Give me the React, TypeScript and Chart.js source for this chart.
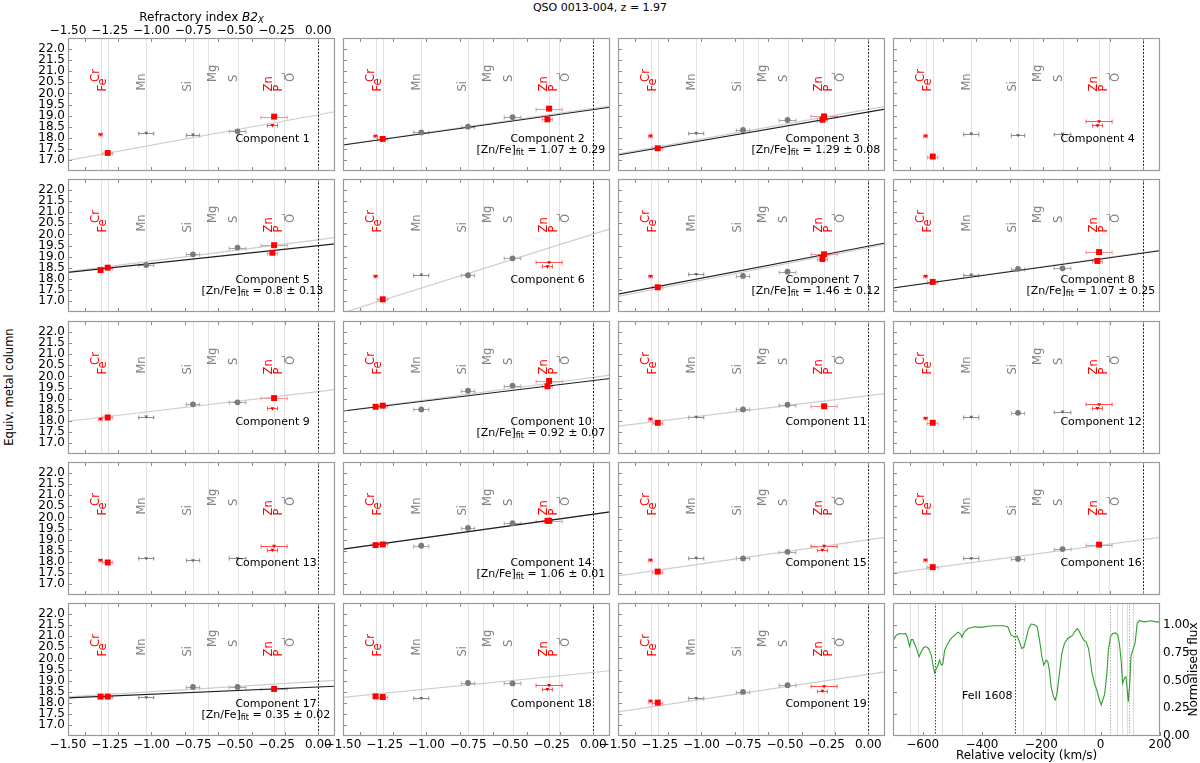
import React, { useEffect, useRef } from 'react';
import { Chart, registerables } from 'chart.js';

Chart.register(...registerables);

const FONT = "'DejaVu Sans', 'Liberation Sans', Arial, sans-serif";
Chart.defaults.font.family = FONT;
Chart.defaults.color = '#000';

// ---------------- text ----------------
const figureTitle = 'QSO 0013-004, z = 1.97';
const yAxisTitle = 'Equiv. metal column';
const topAxisTitle = 'Refractory index ';
const spectrumXTitle = 'Relative velocity (km/s)';
const spectrumYTitle = 'Normalised flux';
const transitionLabel = 'FeII 1608';

// ---------------- axes ----------------
const b2xRange = [-1.5, 0.1];
const columnRange = [16.52, 22.49];
const b2xLabelStep = 0.25;
const columnLabelStep = 0.5;
const b2xTickMarks = [-1.4, -1.2, -1.0, -0.8, -0.6, -0.4, -0.2, 0.0];
const columnTickMarks = [17, 17.5, 18, 18.5, 19, 19.5, 20, 20.5, 21, 21.5, 22];
const velocityRange = [-700, 200];
const velocityLabelStep = 200;
const velocityTickMarks = [-600, -400, -200, 0, 200];
const fluxRange = [0, 1.2];
const fluxLabelStep = 0.25;
const fluxTickMarks = [0.2, 0.4, 0.6, 0.8, 1.0];

// ---------------- elements ----------------
const elementNames = ['Cr', 'Fe', 'Mn', 'Si', 'Mg', 'S', 'Zn', 'P', 'O'];
const elementB2x = [-1.305, -1.262, -1.031, -0.751, -0.66, -0.484, -0.265, -0.275, -0.204];
const elementXerr = [0.01, 0.03, 0.045, 0.04, 0.04, 0.05, 0.078, 0.03, 0];
const elementIsRed = [true, true, false, false, false, false, true, true, false];
const elementLabelX = [-1.335, -1.289, -1.059, -0.781, -0.631, -0.504, -0.298, -0.238, -0.166];
const elementLabelY = [20.52, 20.09, 20.13, 20.09, 20.52, 20.52, 20.09, 20.09, 20.52];
const gridElements = [0, 1, 2, 3, 4, 5, 6, 8];
const oMarkerRange = [20.62, 20.92];

// ---------------- component columns (19 components) ----------------
// kind: M = measured, L = limit, - = none
const crColumn = [18.16, 18.10, 18.11, 18.11, 18.40, 18.13, 18.13, 18.13, 18.10, 18.64, 18.10, 18.13, 18.08, 18.76, 18.10, 18.10, 18.29, 18.30, 18.10];
const crKind = 'LLLLMLLLLMLLLMLLMML';
const feColumn = [17.33, 17.96, 17.54, 17.17, 18.51, 17.09, 17.63, 17.87, 18.16, 18.69, 17.92, 17.92, 17.98, 18.79, 17.57, 17.77, 18.29, 18.27, 18.02];
const feKind = 'MMMMMMMMMMMMMMMMMMM';
const mnColumn = [18.23, 18.25, 18.22, 18.20, 18.63, 18.20, 18.22, 18.20, 18.20, 18.52, 18.19, 18.19, 18.17, 18.73, 18.19, 18.17, 18.26, 18.22, 18.22];
const mnKind = 'LMLLMLLLLMLLLMLLLLL';
const siColumn = [18.15, 18.51, 18.36, 18.13, 19.11, 18.17, 18.14, 18.46, 18.75, 19.36, 18.52, 18.37, 18.08, 19.53, 18.16, 18.14, 18.72, 18.90, 18.50];
const siKind = 'LMMLMMMMMMMMLMMMMMM';
const sColumn = [18.30, 18.94, 18.81, 18.19, 19.41, 18.93, 18.33, 18.48, 18.84, 19.59, 18.73, 18.42, 18.17, 19.74, 18.46, 18.58, 18.72, 18.88, 18.80];
const sKind = 'MMMLMMMMMMMLLMMMMMM';
const znColumn = [18.96, 19.32, 18.97, 18.75, 19.52, 18.75, 19.11, 19.21, 19.03, 19.80, 18.66, 18.75, 18.72, 19.85, 18.72, 18.78, 18.63, 18.80, 18.75];
const znKind = 'MMMLMLMMMMMLLMLMMLL';
const pColumn = [18.58, 18.84, 18.82, 18.57, 19.18, 18.57, 18.90, 18.81, 18.57, 19.56, null, 18.58, 18.54, 19.85, 18.55, null, null, 18.62, 18.55];
const pKind = 'LMMLMLMMLM-LLML--LL';

// fit lines: column value at b2xRange[0] and b2xRange[1]
const grayFitStart = [17.0, 17.69, 17.29, null, 18.33, 16.49, 17.22, 17.60, 17.99, 18.45, 17.77, null, null, 18.58, 17.38, 17.50, 18.28, 18.25, 17.6];
const grayFitEnd = [19.18, 19.45, 19.42, null, 19.86, 20.25, 19.55, 19.30, 19.41, 20.06, 19.23, null, null, 20.25, 19.11, 19.11, 19.02, 19.45, 19.4];
const blackFitStart = [null, 17.69, 17.24, null, 18.30, null, 17.32, 17.60, null, 18.45, null, null, null, 18.58, null, null, 18.23, null, null];
const blackFitEnd = [null, 19.38, 19.30, null, 19.58, null, 19.62, 19.27, null, 19.91, null, null, null, 20.25, null, null, 18.75, null, null];
const znFeFit = ['', '1.07 ± 0.29', '1.29 ± 0.08', '', '0.8 ± 0.13', '', '1.46 ± 0.12', '1.07 ± 0.25', '', '0.92 ± 0.07', '', '', '', '1.06 ± 0.01', '', '', '0.35 ± 0.02', '', ''];
const componentTextAnchor = [-0.497, 17.97];
const fitTextAnchor = [-0.70, 17.47];

// ---------------- spectrum ----------------
const spectrumVelocity = [
  -700, -689, -678, -666, -658, -652, -644, -638, -633, -621,
  -612, -605, -596, -588, -580, -571, -564, -560, -554, -548,
  -543, -537, -532, -526, -515, -504, -492, -481, -472, -468,
  -459, -447, -425, -403, -380, -358, -330, -313, -302, -290,
  -281, -274, -266, -259, -251, -243, -234, -223, -214, -206,
  -198, -192, -184, -178, -173, -167, -159, -153, -147, -139,
  -131, -122, -111, -102, -94, -88, -79, -74, -66, -57,
  -49, -41, -34, -30, -21, -13, -4, 2, 7, 13,
  21, 26, 33, 41, 50, 58, 63, 69, 74, 80,
  85, 89, 93, 98, 102, 108, 116, 123, 130, 147,
  170, 187, 200];
const spectrumFlux = [
  0.86, 0.91, 0.925, 0.92, 0.925, 0.895, 0.81, 0.87, 0.87, 0.79,
  0.715, 0.76, 0.80, 0.805, 0.79, 0.73, 0.625, 0.57, 0.61, 0.64,
  0.685, 0.64, 0.65, 0.775, 0.835, 0.88, 0.91, 0.937, 0.92, 0.89,
  0.94, 0.97, 0.985, 0.98, 0.99, 0.995, 0.995, 0.985, 0.91, 0.895,
  0.90, 0.85, 0.79, 0.80, 0.88, 0.97, 1.01, 1.003, 0.985, 0.865,
  0.715, 0.64, 0.685, 0.67, 0.595, 0.445, 0.355, 0.325, 0.385, 0.565,
  0.745, 0.835, 0.88, 0.895, 0.91, 0.94, 0.97, 0.955, 0.91, 0.865,
  0.85, 0.79, 0.67, 0.58, 0.475, 0.415, 0.325, 0.28, 0.325, 0.37,
  0.565, 0.775, 0.895, 0.925, 0.93, 0.91, 0.835, 0.685, 0.475, 0.52,
  0.535, 0.43, 0.31, 0.475, 0.715, 0.775, 0.835, 1.015, 1.04, 1.03,
  1.04, 1.03, 1.03];
const componentVelocities = [-644, -616, -535, -468, -262, -189, -150, -109, -55, -19, 54, 71, 88, 108];
const markedVelocities = [33, 95];
const dividerVelocities = [-560, -290];
const transitionLabelPos = [-297, 0.36];

// ---------------- layout ----------------
const COL_LEFT = [68, 343, 618, 893];
const ROW_TOP = [38, 179, 321, 462, 603];
const PW = 267, PH = 133;
const ML = 70, MR = 40, MT = 38, MB = 27;
const CW = PW + ML + MR, CH = PH + MT + MB;
const Y_AXIS_W = 60, X_AXIS_H = 24, TOP_AXIS_H = 24, RIGHT_AXIS_W = 32;

const elementSeries: [number, (number | null)[], string][] = [
  [0, crColumn, crKind], [1, feColumn, feKind], [2, mnColumn, mnKind], [3, siColumn, siKind],
  [5, sColumn, sKind], [6, znColumn, znKind], [7, pColumn, pKind],
];

function signed(v: number, d: number) {
  const s = Math.abs(v).toFixed(d);
  return (v < -1e-9 ? '\u2212' : '') + s;
}
function hLine(ctx: any, x0: number, x1: number, y: number) {
  ctx.beginPath(); ctx.moveTo(x0, y); ctx.lineTo(x1, y); ctx.stroke();
}
function vLine(ctx: any, x: number, y0: number, y1: number) {
  ctx.beginPath(); ctx.moveTo(x, y0); ctx.lineTo(x, y1); ctx.stroke();
}
const half = (v: number) => Math.round(v) + 0.5;

function drawFrame(ctx: any, a: any) {
  ctx.strokeStyle = '#9a9a9a';
  ctx.lineWidth = 1.2;
  ctx.strokeRect(half(a.left), half(a.top), Math.round(a.right) - Math.round(a.left) - 1, Math.round(a.bottom) - Math.round(a.top) - 1);
}

function componentDecor(i: number) {
  return {
    id: 'componentDecor',
    beforeDatasetsDraw(chart: any) {
      const { ctx, chartArea: a } = chart;
      const xs = chart.scales.x, ys = chart.scales.y;
      ctx.save();
      ctx.beginPath(); ctx.rect(a.left, a.top, a.right - a.left, a.bottom - a.top); ctx.clip();
      ctx.lineWidth = 1;
      ctx.strokeStyle = '#e2e2e2';
      gridElements.forEach((e) => vLine(ctx, half(xs.getPixelForValue(elementB2x[e])), a.top, a.bottom));
      chart.data.datasets.forEach((ds: any) => {
        if (!ds.errColor) return;
        ctx.strokeStyle = ds.errColor;
        ds.data.forEach((p: any) => {
          if (!p.xerr) return;
          const x0 = xs.getPixelForValue(p.x - p.xerr), x1 = xs.getPixelForValue(p.x + p.xerr);
          const py = half(ys.getPixelForValue(p.y));
          hLine(ctx, x0, x1, py);
          vLine(ctx, x0, py - 2, py + 2);
          vLine(ctx, x1, py - 2, py + 2);
        });
      });
      const ox = half(xs.getPixelForValue(elementB2x[8]));
      ctx.strokeStyle = '#9a9a9a';
      const oTop = ys.getPixelForValue(oMarkerRange[1]);
      vLine(ctx, ox, ys.getPixelForValue(oMarkerRange[0]), oTop);
      hLine(ctx, ox - 3, ox, half(oTop));
      ctx.restore();
    },
    afterDatasetsDraw(chart: any) {
      const { ctx, chartArea: a } = chart;
      const xs = chart.scales.x, ys = chart.scales.y;
      ctx.save();
      // zero line
      ctx.strokeStyle = '#222';
      ctx.lineWidth = 1;
      ctx.setLineDash([2, 1.5]);
      vLine(ctx, half(xs.getPixelForValue(0)), a.top, a.bottom);
      ctx.setLineDash([]);
      // element labels
      ctx.font = `11.5px ${FONT}`;
      elementNames.forEach((name, e) => {
        ctx.save();
        ctx.translate(xs.getPixelForValue(elementLabelX[e]), ys.getPixelForValue(elementLabelY[e]));
        ctx.rotate(-Math.PI / 2);
        ctx.fillStyle = elementIsRed[e] ? '#ff0000' : '#808080';
        ctx.textAlign = 'left';
        ctx.textBaseline = 'middle';
        ctx.fillText(name, 0, 0);
        ctx.restore();
      });
      // annotation
      ctx.fillStyle = '#000';
      ctx.textBaseline = 'middle';
      ctx.textAlign = 'left';
      ctx.font = `11px ${FONT}`;
      ctx.fillText(`Component ${i + 1}`, xs.getPixelForValue(componentTextAnchor[0]), ys.getPixelForValue(componentTextAnchor[1]));
      if (znFeFit[i]) {
        let px = xs.getPixelForValue(fitTextAnchor[0]);
        const py = ys.getPixelForValue(fitTextAnchor[1]);
        ctx.fillText('[Zn/Fe]', px, py);
        px += ctx.measureText('[Zn/Fe]').width;
        ctx.font = `8px ${FONT}`;
        ctx.fillText('fit', px, py + 3);
        px += ctx.measureText('fit').width;
        ctx.font = `11px ${FONT}`;
        ctx.fillText(' = ' + znFeFit[i], px, py);
      }
      // inner ticks
      ctx.strokeStyle = '#8a8a8a';
      ctx.lineWidth = 1;
      b2xTickMarks.forEach((v) => {
        const px = half(xs.getPixelForValue(v));
        vLine(ctx, px, a.top, a.top + 4);
        vLine(ctx, px, a.bottom - 4, a.bottom);
      });
      columnTickMarks.forEach((v) => {
        const py = half(ys.getPixelForValue(v));
        hLine(ctx, a.left, a.left + 4, py);
      });
      drawFrame(ctx, a);
      // top axis title
      if (i === 0) {
        const parts: [string, string, number][] = [
          [topAxisTitle, `12px ${FONT}`, 0],
          ['B2', `italic 12px ${FONT}`, 0],
          ['X', `italic 8.5px ${FONT}`, 3],
        ];
        let total = 0;
        parts.forEach(([t, f]) => { ctx.font = f; total += ctx.measureText(t).width; });
        let px = (a.left + a.right) / 2 - total / 2;
        const py = a.top - 20;
        ctx.textAlign = 'left';
        ctx.textBaseline = 'middle';
        parts.forEach(([t, f, dy]) => {
          ctx.font = f;
          ctx.fillText(t, px, py + dy);
          px += ctx.measureText(t).width;
        });
      }
      ctx.restore();
    },
  };
}

function componentDatasets(i: number) {
  const ds: any[] = [];
  const grayM: any[] = [], grayL: any[] = [], redM: any[] = [], redL: any[] = [];
  elementSeries.forEach(([e, col, kind]) => {
    const k = kind[i];
    const v = col[i];
    if (k === '-' || v == null) return;
    const p = { x: elementB2x[e], y: v, xerr: elementXerr[e] };
    if (elementIsRed[e]) (k === 'M' ? redM : redL).push(p);
    else (k === 'M' ? grayM : grayL).push(p);
  });
  ds.push({ data: redM, pointStyle: 'rect', pointRadius: 4.2, backgroundColor: '#ff0000', borderWidth: 0, errColor: 'rgba(235,120,120,0.8)', order: 0 });
  ds.push({ data: redL, pointStyle: 'triangle', rotation: 180, pointRadius: 2.3, backgroundColor: '#ff0000', borderWidth: 0, errColor: 'rgba(255,50,50,0.85)', order: 1 });
  ds.push({ data: grayM, pointStyle: 'circle', pointRadius: 2.9, backgroundColor: '#7a7a7a', borderWidth: 0, errColor: 'rgba(150,150,150,0.85)', order: 2 });
  ds.push({ data: grayL, pointStyle: 'triangle', rotation: 180, pointRadius: 2.2, backgroundColor: '#6a6a6a', borderWidth: 0, errColor: 'rgba(120,120,120,0.85)', order: 3 });
  if (blackFitStart[i] != null) {
    ds.push({ data: [{ x: b2xRange[0], y: blackFitStart[i] }, { x: b2xRange[1], y: blackFitEnd[i] }], showLine: true, borderColor: '#1e1e1e', borderWidth: 1.1, pointRadius: 0, order: 8 });
  }
  if (grayFitStart[i] != null) {
    ds.push({ data: [{ x: b2xRange[0], y: grayFitStart[i] }, { x: b2xRange[1], y: grayFitEnd[i] }], showLine: true, borderColor: 'rgba(185,185,185,0.7)', borderWidth: 1.2, pointRadius: 0, order: 9 });
  }
  return ds;
}

function makeComponentChart(canvas: HTMLCanvasElement, i: number) {
  const row = Math.floor(i / 4), col = i % 4;
  const showLeft = col === 0, showBottom = row === 4, showTop = i === 0;
  const tickFont = { size: 12, family: FONT };
  const scales: any = {
    x: {
      type: 'linear', position: 'bottom', min: b2xRange[0], max: b2xRange[1], display: showBottom,
      grid: { display: false, drawTicks: false }, border: { display: false },
      ticks: { stepSize: b2xLabelStep, includeBounds: false, padding: 2, font: tickFont, color: '#000', maxRotation: 0, autoSkip: false, callback: (v: number) => signed(v, 2) },
      afterFit: showBottom ? (s: any) => { s.height = X_AXIS_H; } : undefined,
    },
    y: {
      type: 'linear', position: 'left', min: columnRange[0], max: columnRange[1], display: showLeft,
      grid: { display: false, drawTicks: false }, border: { display: false },
      ticks: { stepSize: columnLabelStep, includeBounds: false, padding: 3, font: tickFont, color: '#000', autoSkip: false, callback: (v: number) => v.toFixed(1) },
      afterFit: showLeft ? (s: any) => { s.width = Y_AXIS_W; } : undefined,
    },
  };
  if (showTop) {
    scales.xTop = {
      type: 'linear', position: 'top', min: b2xRange[0], max: b2xRange[1], display: true,
      grid: { display: false, drawTicks: false }, border: { display: false },
      ticks: { stepSize: b2xLabelStep, includeBounds: false, padding: 0, font: tickFont, color: '#000', maxRotation: 0, autoSkip: false, callback: (v: number) => signed(v, 2) },
      afterFit: (s: any) => { s.height = TOP_AXIS_H; },
    };
  }
  return new Chart(canvas, {
    type: 'scatter',
    data: { datasets: componentDatasets(i) },
    options: {
      animation: false, responsive: false, devicePixelRatio: 1, events: [],
      layout: { padding: { left: ML - (showLeft ? Y_AXIS_W : 0), right: MR, top: MT - (showTop ? TOP_AXIS_H : 0), bottom: MB - (showBottom ? X_AXIS_H : 0) } },
      plugins: { legend: { display: false }, tooltip: { enabled: false } },
      scales,
    } as any,
    plugins: [componentDecor(i)],
  } as any);
}

const spectrumDecor = {
  id: 'spectrumDecor',
  beforeDatasetsDraw(chart: any) {
    const { ctx, chartArea: a } = chart;
    const xs = chart.scales.x;
    ctx.save();
    ctx.beginPath(); ctx.rect(a.left, a.top, a.right - a.left, a.bottom - a.top); ctx.clip();
    ctx.lineWidth = 1;
    ctx.strokeStyle = '#dedede';
    componentVelocities.forEach((v) => vLine(ctx, half(xs.getPixelForValue(v)), a.top, a.bottom));
    ctx.setLineDash([1.5, 1.5]);
    ctx.strokeStyle = '#aaaaaa';
    markedVelocities.forEach((v) => vLine(ctx, half(xs.getPixelForValue(v)), a.top, a.bottom));
    ctx.strokeStyle = '#444';
    dividerVelocities.forEach((v) => vLine(ctx, half(xs.getPixelForValue(v)), a.top, a.bottom));
    ctx.restore();
  },
  afterDatasetsDraw(chart: any) {
    const { ctx, chartArea: a } = chart;
    const xs = chart.scales.x, ys = chart.scales.yR;
    ctx.save();
    ctx.fillStyle = '#000';
    ctx.font = `11px ${FONT}`;
    ctx.textAlign = 'right';
    ctx.textBaseline = 'middle';
    ctx.fillText(transitionLabel, xs.getPixelForValue(transitionLabelPos[0]), ys.getPixelForValue(transitionLabelPos[1]));
    ctx.strokeStyle = '#8a8a8a';
    ctx.lineWidth = 1;
    fluxTickMarks.forEach((v) => hLine(ctx, a.left, a.left + 4, half(ys.getPixelForValue(v))));
    velocityTickMarks.forEach((v) => vLine(ctx, half(xs.getPixelForValue(v)), a.bottom - 4, a.bottom));
    drawFrame(ctx, a);
    ctx.font = `12px ${FONT}`;
    ctx.textAlign = 'center';
    ctx.textBaseline = 'middle';
    ctx.fillText(spectrumXTitle, (a.left + a.right) / 2, a.bottom + 20);
    ctx.save();
    ctx.translate(a.right + 34, (a.top + a.bottom) / 2);
    ctx.rotate(-Math.PI / 2);
    ctx.fillText(spectrumYTitle, 0, 0);
    ctx.restore();
    ctx.restore();
  },
};

function makeSpectrumChart(canvas: HTMLCanvasElement) {
  const tickFont = { size: 12, family: FONT };
  return new Chart(canvas, {
    type: 'line',
    data: {
      datasets: [{
        data: spectrumVelocity.map((v, k) => ({ x: v, y: spectrumFlux[k] })),
        borderColor: '#2f9e2f', borderWidth: 1.1, pointRadius: 0, tension: 0, yAxisID: 'yR',
      }],
    },
    options: {
      animation: false, responsive: false, devicePixelRatio: 1, events: [],
      layout: { padding: { left: ML, right: MR - RIGHT_AXIS_W, top: MT, bottom: MB - X_AXIS_H } },
      plugins: { legend: { display: false }, tooltip: { enabled: false } },
      scales: {
        x: {
          type: 'linear', position: 'bottom', min: velocityRange[0], max: velocityRange[1],
          grid: { display: false, drawTicks: false }, border: { display: false },
          ticks: { stepSize: velocityLabelStep, includeBounds: false, padding: 2, font: tickFont, color: '#000', maxRotation: 0, autoSkip: false, callback: (v: number) => signed(v, 0) },
          afterFit: (s: any) => { s.height = X_AXIS_H; },
        },
        yR: {
          type: 'linear', position: 'right', min: fluxRange[0], max: fluxRange[1],
          grid: { display: false, drawTicks: false }, border: { display: false },
          ticks: { stepSize: fluxLabelStep, includeBounds: false, padding: 3, font: tickFont, color: '#000', autoSkip: false, callback: (v: number) => v.toFixed(2) },
          afterFit: (s: any) => { s.width = RIGHT_AXIS_W; },
        },
      },
    } as any,
    plugins: [spectrumDecor],
  } as any);
}

export default function App() {
  const refs = useRef<(HTMLCanvasElement | null)[]>([]);
  useEffect(() => {
    const charts: any[] = [];
    for (let i = 0; i < 20; i++) {
      const c = refs.current[i];
      if (!c) continue;
      charts.push(i < 19 ? makeComponentChart(c, i) : makeSpectrumChart(c));
    }
    return () => { charts.forEach((ch) => ch.destroy()); };
  }, []);

  return (
    <div style={{ position: 'absolute', left: 0, top: 0, width: 1200, height: 763, overflow: 'hidden', background: '#fff', fontFamily: FONT }}>
      <div style={{ position: 'absolute', left: 0, top: 1, width: 1200, textAlign: 'center', fontSize: 11, lineHeight: '14px', color: '#000' }}>{figureTitle}</div>
      <div style={{ position: 'absolute', left: 9, top: 387, transform: 'translate(-50%, -50%) rotate(-90deg)', whiteSpace: 'nowrap', fontSize: 11.5, lineHeight: '14px', color: '#000' }}>{yAxisTitle}</div>
      {Array.from({ length: 20 }).map((_, i) => {
        const r = Math.floor(i / 4), c = i % 4;
        return (
          <canvas
            key={i}
            ref={(el) => { refs.current[i] = el; }}
            width={CW}
            height={CH}
            style={{ position: 'absolute', left: COL_LEFT[c] - ML, top: ROW_TOP[r] - MT, width: CW, height: CH }}
          />
        );
      })}
    </div>
  );
}
